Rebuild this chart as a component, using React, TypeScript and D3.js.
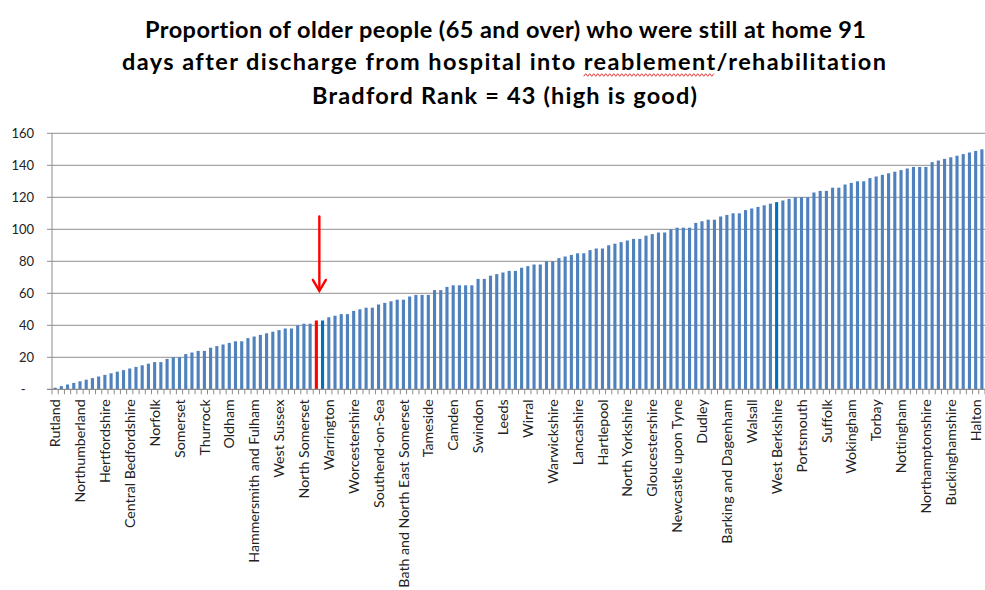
import React, { useLayoutEffect, useRef, useState } from "react";
import * as d3 from "d3";

// Rank of each council (ordered low to high; tied councils share a rank)
const rankValues: number[] = [
  1, 2, 3, 4, 5, 6, 7, 8, 9, 10,
  11, 12, 13, 14, 15, 16, 17, 17, 19, 20,
  20, 22, 23, 24, 24, 26, 27, 28, 29, 30,
  30, 32, 33, 34, 35, 36, 37, 38, 38, 40,
  41, 41, 43, 43, 45, 46, 47, 47, 49, 50,
  51, 51, 53, 54, 55, 56, 56, 58, 59, 59,
  59, 62, 62, 64, 65, 65, 65, 65, 69, 69,
  71, 72, 73, 74, 74, 76, 77, 78, 78, 80,
  80, 82, 83, 84, 85, 85, 87, 88, 88, 90,
  91, 92, 93, 94, 94, 96, 97, 98, 98, 100,
  101, 101, 101, 104, 105, 106, 106, 108, 109, 110,
  110, 112, 113, 114, 115, 116, 117, 118, 119, 120,
  120, 120, 123, 124, 124, 126, 126, 128, 129, 130,
  130, 132, 133, 134, 135, 136, 137, 138, 139, 139,
  139, 142, 143, 144, 145, 146, 147, 148, 149, 150,
];

// Axis shows every fourth council name
const labelStep = 4;
const labelledAreas: string[] = [
  "Rutland", "Northumberland", "Hertfordshire", "Central Bedfordshire",
  "Norfolk", "Somerset", "Thurrock", "Oldham", "Hammersmith and Fulham",
  "West Sussex", "North Somerset", "Warrington", "Worcestershire",
  "Southend-on-Sea", "Bath and North East Somerset", "Tameside", "Camden",
  "Swindon", "Leeds", "Wirral", "Warwickshire", "Lancashire", "Hartlepool",
  "North Yorkshire", "Gloucestershire", "Newcastle upon Tyne", "Dudley",
  "Barking and Dagenham", "Walsall", "West Berkshire", "Portsmouth",
  "Suffolk", "Wokingham", "Torbay", "Nottingham", "Northamptonshire",
  "Buckinghamshire", "Halton",
];

const bradfordIndex = 42;
const comparatorIndices: number[] = [43, 116];

const yTicks: number[] = [0, 20, 40, 60, 80, 100, 120, 140, 160];

const titleLines: string[] = [
  "Proportion of older people (65 and over) who were still at home 91",
  "days after discharge from hospital into reablement/rehabilitation",
  "Bradford Rank = 43 (high is good)",
];
const misspelt = "reablement";

const W = 985;
const H = 590;
const plot = { left: 52, right: 985, top: 133.3, bottom: 389.3 };

// title line layout: centre, baseline, rendered width
const titleLayout = [
  { cx: 505.5, y: 38, len: 721 },
  { cx: 504, y: 70, len: 764 },
  { cx: 504.5, y: 104, len: 385 },
];

const barBlue = "#4F81BD";
const highlightBlue = "#0070C0";
const bradfordRed = "#FF0000";
const gridGrey = "#A6A6A6";
const font = "Lato, 'Open Sans', sans-serif";

export default function App() {
  const x = d3
    .scaleBand<number>()
    .domain(d3.range(rankValues.length))
    .range([plot.left, plot.right])
    .paddingInner(0.5)
    .paddingOuter(0.25);
  const y = d3.scaleLinear().domain([0, 160]).range([plot.bottom, plot.top]);
  const step = x.step();
  const bw = x.bandwidth();

  const line2Ref = useRef<SVGTextElement>(null);
  const [squiggle, setSquiggle] = useState<string | null>(null);

  // red spell-check wave under the misspelt word in the second title line
  useLayoutEffect(() => {
    const el = line2Ref.current;
    if (!el) return;
    const start = titleLines[1].indexOf(misspelt);
    const x0 = el.getStartPositionOfChar(start).x;
    const x1 = el.getEndPositionOfChar(start + misspelt.length - 1).x;
    const baseY = 75;
    const amp = 1.3;
    const period = 4;
    const pts: [number, number][] = [];
    for (let px = x0; px <= x1; px += period / 2) {
      const k = Math.round((px - x0) / (period / 2));
      pts.push([px, baseY + (k % 2 === 0 ? amp : -amp)]);
    }
    setSquiggle(d3.line()(pts));
  }, []);

  const boundaries = d3.range(rankValues.length + 1).map((k) => plot.left + k * step);

  const colourOf = (i: number) =>
    i === bradfordIndex ? bradfordRed : comparatorIndices.includes(i) ? highlightBlue : barBlue;

  const arrowX = (x(bradfordIndex) ?? 0) + bw / 2 + 3;
  const arrowTop = y(108);
  const arrowTip = y(61.5);

  return (
    <svg
      width={W}
      height={H}
      viewBox={`0 0 ${W} ${H}`}
      style={{
        position: "absolute",
        left: 0,
        top: 0,
        display: "block",
        background: "#fff",
        fontVariantLigatures: "none",
      }}
      fontFamily={font}
    >
      <rect width={W} height={H} fill="#fff" />

      {/* title */}
      <g fontWeight={700} fontSize={23.5} textAnchor="middle" fill="#000">
        {titleLines.map((t, k) => (
          <text
            key={k}
            ref={k === 1 ? line2Ref : undefined}
            x={titleLayout[k].cx}
            y={titleLayout[k].y}
            textLength={titleLayout[k].len}
            lengthAdjust="spacing"
          >
            {t}
          </text>
        ))}
      </g>
      {squiggle && <path d={squiggle} fill="none" stroke="#E02020" strokeWidth={0.9} />}

      {/* gridlines and y labels */}
      <g>
        {yTicks.map((t) => (
          <g key={t}>
            {t > 0 && (
              <line x1={plot.left - 5} x2={plot.right} y1={y(t)} y2={y(t)} stroke={gridGrey} strokeWidth={1.2} />
            )}
            <text
              x={t === 0 ? 25.5 : 34}
              y={y(t)}
              dy="0.36em"
              textAnchor="end"
              fontSize={13}
              fill="#222"
            >
              {t === 0 ? "-" : t}
            </text>
          </g>
        ))}
      </g>

      {/* bars */}
      <g>
        {rankValues.map((v, i) => (
          <rect key={i} x={x(i)} y={y(v)} width={bw} height={y(0) - y(v)} fill={colourOf(i)} />
        ))}
      </g>

      {/* axes */}
      <line x1={plot.left} x2={plot.left} y1={plot.top} y2={plot.bottom} stroke="#8C8C8C" strokeWidth={1} />
      <line x1={plot.left - 5} x2={plot.right} y1={plot.bottom} y2={plot.bottom} stroke="#8C8C8C" strokeWidth={1.2} />
      <g stroke="#8C8C8C" strokeWidth={1}>
        {boundaries.map((bx, k) => (
          <line key={k} x1={bx} x2={bx} y1={plot.bottom} y2={plot.bottom + 5} />
        ))}
      </g>

      {/* category labels */}
      <g fontSize={14.2} fill="#222" textAnchor="end">
        {labelledAreas.map((name, j) => {
          const i = j * labelStep;
          const cx = (x(i) ?? 0) + bw / 2;
          return (
            <text key={name} transform={`translate(${cx},${plot.bottom + 10}) rotate(-90)`} dy="0.36em">
              {name}
            </text>
          );
        })}
      </g>

      {/* arrow marking Bradford */}
      <g stroke={bradfordRed} strokeWidth={2.4} fill="none" strokeLinecap="round" strokeLinejoin="miter">
        <line x1={arrowX} x2={arrowX} y1={arrowTop} y2={arrowTip - 1} />
        <polyline points={`${arrowX - 6.5},${arrowTip - 11} ${arrowX},${arrowTip} ${arrowX + 6.5},${arrowTip - 11}`} />
      </g>
    </svg>
  );
}
